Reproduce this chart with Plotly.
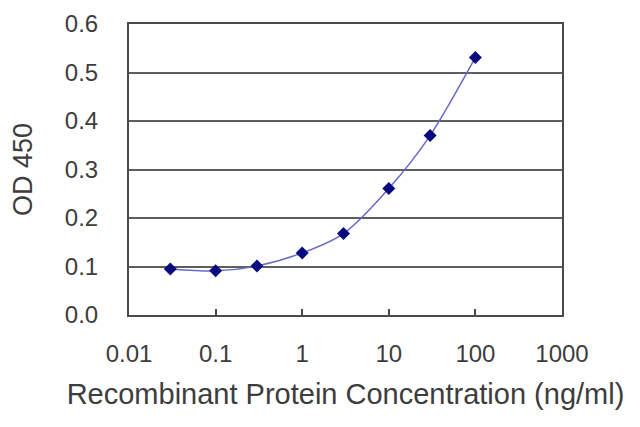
import plotly.graph_objects as go

# ELISA standard curve values
conc = [0.03, 0.1, 0.3, 1, 3, 10, 30, 100]
od450 = [0.095, 0.091, 0.101, 0.128, 0.168, 0.261, 0.370, 0.531]

x_ticks = [0.01, 0.1, 1, 10, 100, 1000]
x_labels = ['0.01', '0.1', '1', '10', '100', '1000']
y_ticks = [0.0, 0.1, 0.2, 0.3, 0.4, 0.5, 0.6]
y_labels = ['0.0', '0.1', '0.2', '0.3', '0.4', '0.5', '0.6']

txt = '#3d3d3d'

fig = go.Figure(go.Scatter(
    x=conc, y=od450,
    mode='lines+markers',
    line=dict(color='#6a6ac4', width=1.5, shape='spline', smoothing=0.8),
    marker=dict(symbol='diamond', size=10, color='#0a0a80'),
))

# page body has an 8px default margin, so margins are shifted to compensate
fig.update_layout(
    width=640, height=427,
    margin=dict(l=121, r=86, t=16, b=120),
    paper_bgcolor='white', plot_bgcolor='white',
    showlegend=False,
    font=dict(family='Liberation Sans, Arial, sans-serif', size=23, color=txt),
    xaxis=dict(
        type='log', range=[-2, 3], automargin=False,
        tickvals=x_ticks, ticktext=x_labels,
        showgrid=False, zeroline=False,
        showline=True, linecolor='#4a4a4a', linewidth=2, mirror=True,
        ticks='inside', ticklen=6, tickcolor='#4a4a4a', tickwidth=2,
        ticklabelstandoff=16,
        tickfont=dict(size=24, color=txt),
        title=dict(text='Recombinant Protein Concentration (ng/ml)', standoff=18,
                   font=dict(size=29, color=txt)),
    ),
    yaxis=dict(
        range=[0, 0.6], automargin=False,
        tickvals=y_ticks, ticktext=y_labels,
        showgrid=True, gridcolor='#5e5e5e', gridwidth=2,
        zeroline=False,
        showline=True, linecolor='#4a4a4a', linewidth=2, mirror=True,
        ticks='outside', ticklen=24, tickcolor='rgba(0,0,0,0)',
        tickfont=dict(size=24, color=txt),
        title=dict(text='OD 450', standoff=26, font=dict(size=27, color=txt)),
    ),
)

fig.write_html("out.html")
